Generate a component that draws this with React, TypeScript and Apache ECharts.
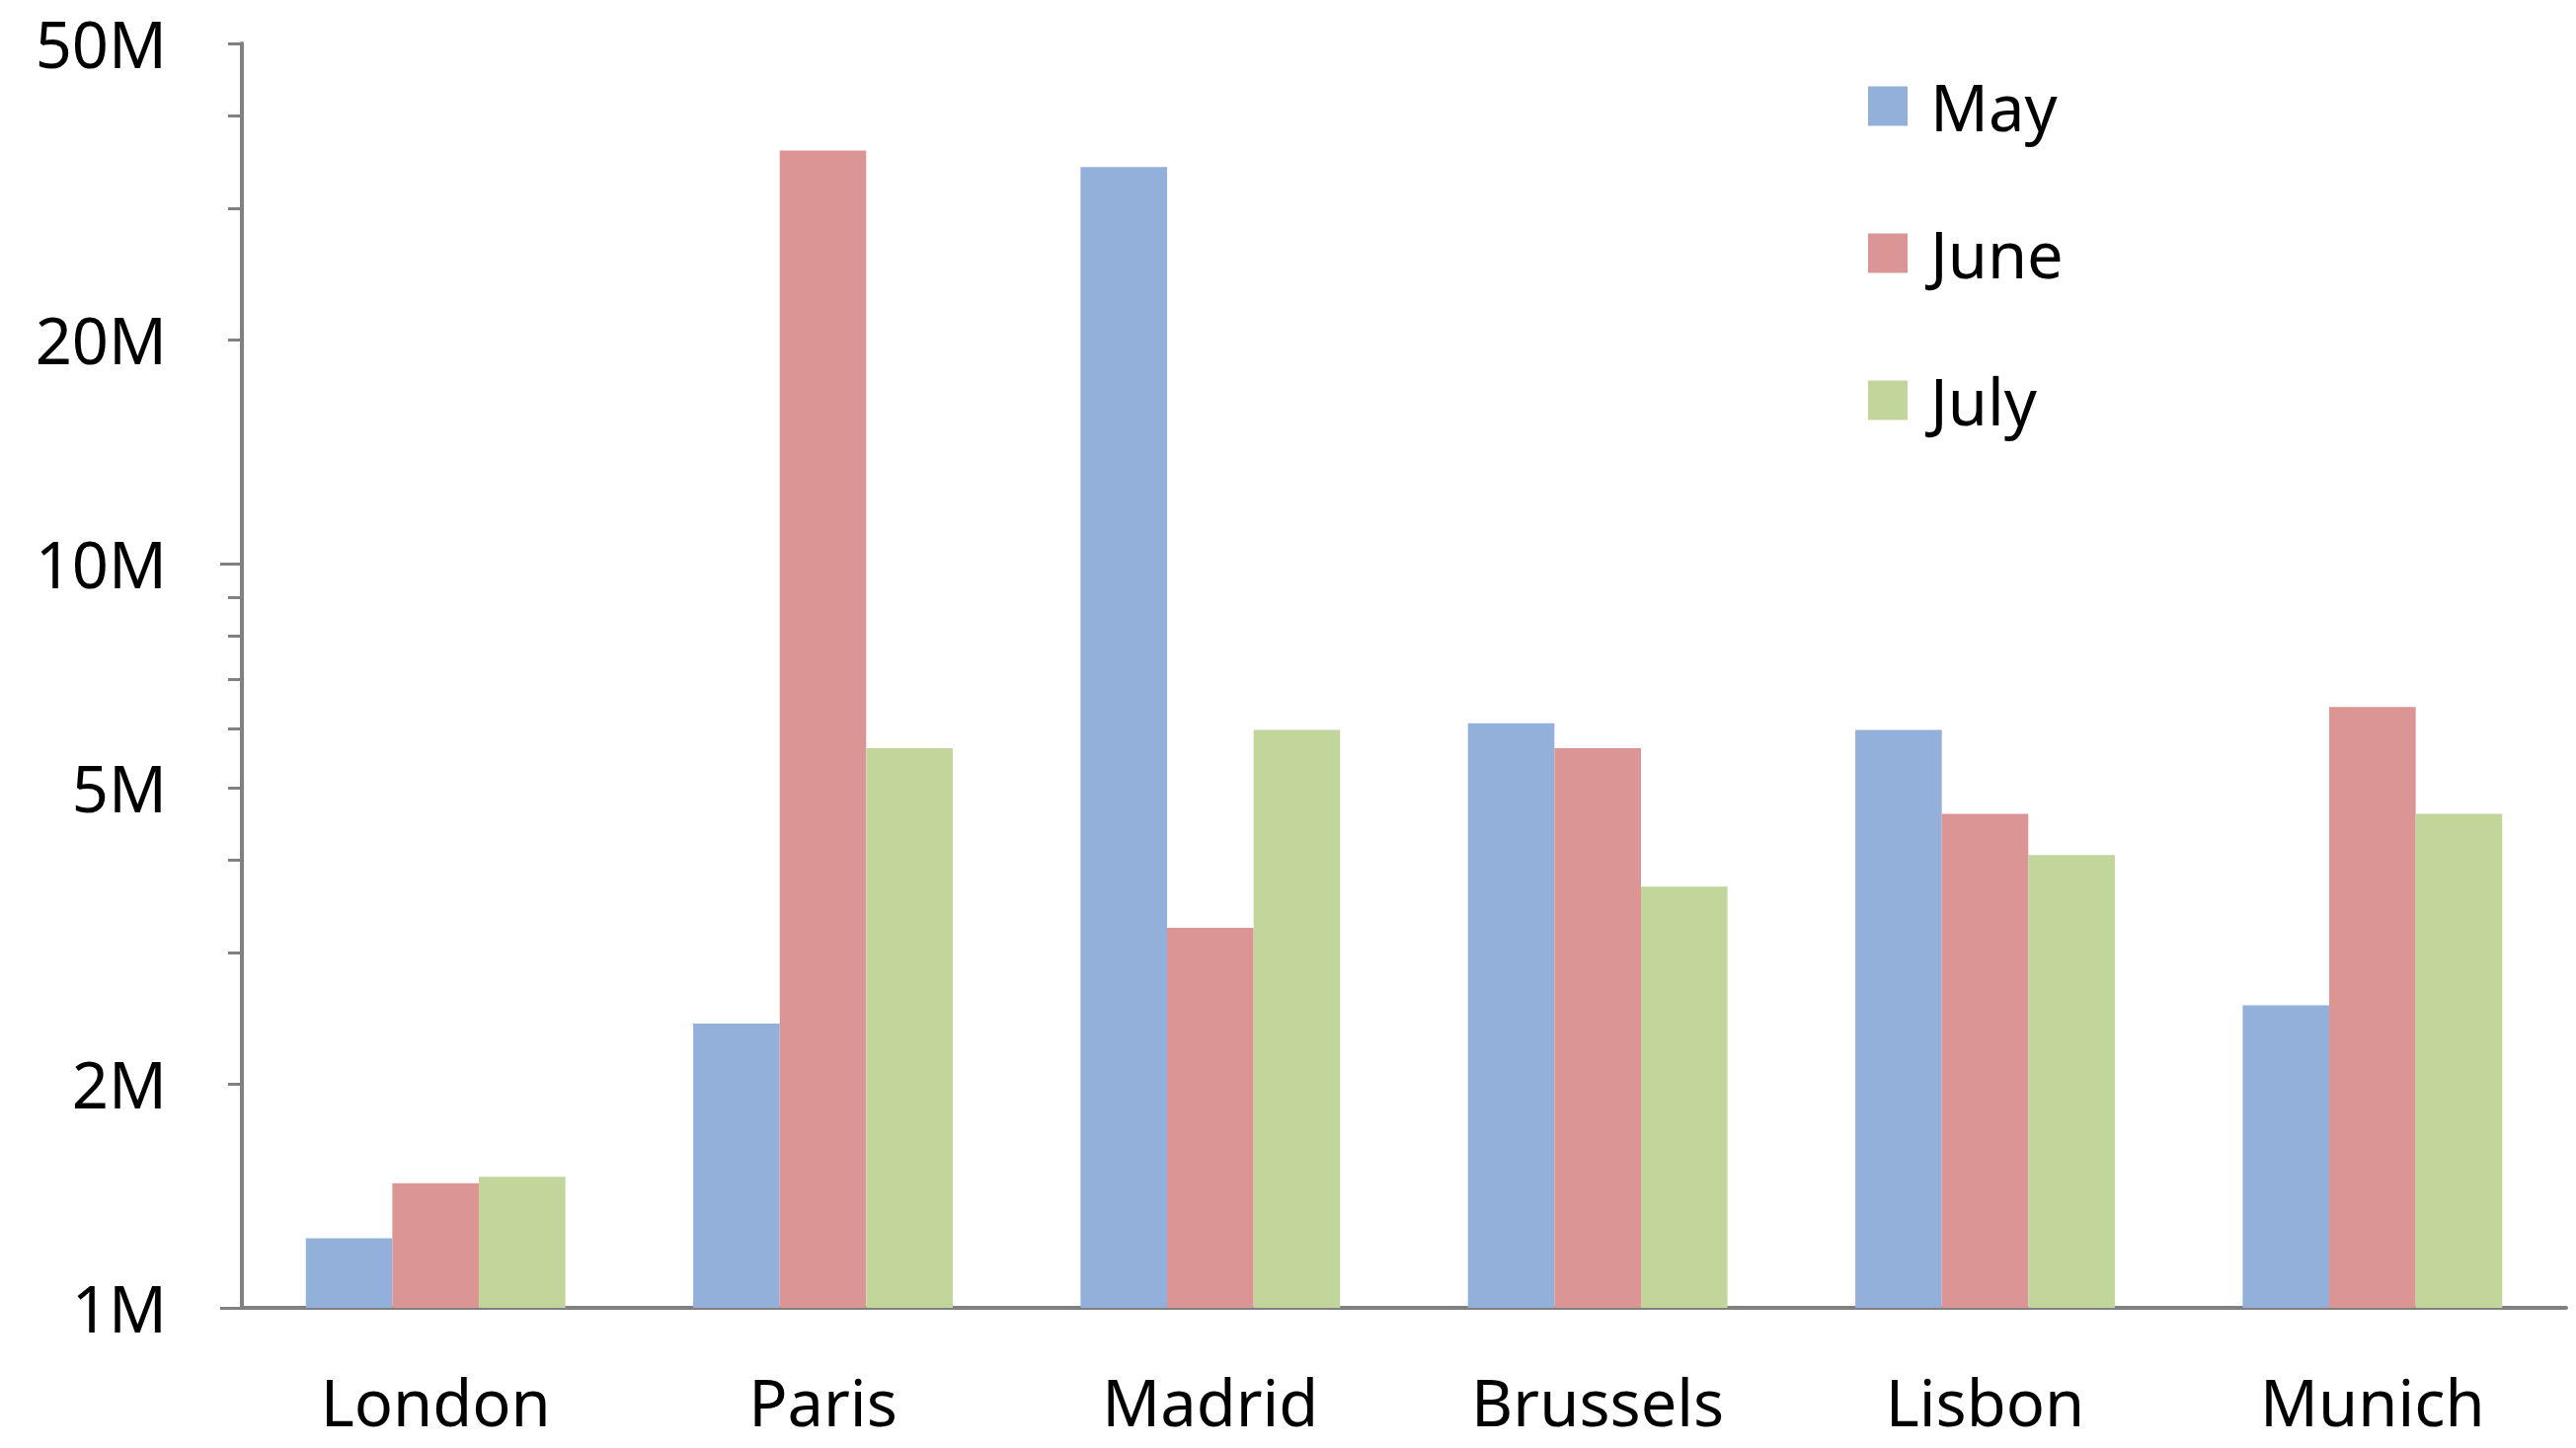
import React, { useEffect, useRef } from "react";
import * as echarts from "echarts";

const categories = ["London", "Paris", "Madrid", "Brussels", "Lisbon", "Munich"];
const seriesNames = ["May", "June", "July"];
const mayValues = [1240000, 2410000, 34100000, 6100000, 5980000, 2550000];
const juneValues = [1470000, 35900000, 3240000, 5650000, 4610000, 6420000];
const julyValues = [1500000, 5650000, 5980000, 3680000, 4060000, 4610000];
const yLabelValues = [1000000, 2000000, 5000000, 10000000, 20000000, 50000000];
const yTickValues = [
  1000000, 2000000, 3000000, 4000000, 5000000, 6000000, 7000000, 8000000, 9000000,
  10000000, 20000000, 30000000, 40000000, 50000000,
];
const yDecadeTicks = [1000000, 10000000];
const colors = ["#92B0DA", "#DA9594", "#C2D69B"];

const FONT = "Noto Sans";
const AXIS_COLOR = "#808080";

export default function App() {
  const ref = useRef<HTMLDivElement>(null);
  useEffect(() => {
    if (!ref.current) return;
    const chart = echarts.init(ref.current, undefined, { renderer: "svg" });
    const values = [mayValues, juneValues, julyValues];
    chart.setOption({
      animation: false,
      backgroundColor: "#ffffff",
      color: colors,
      grid: { left: 245, right: 10, top: 44, bottom: 142 },
      legend: {
        data: seriesNames,
        orient: "vertical",
        left: 1887,
        top: 70,
        itemWidth: 40,
        itemHeight: 40,
        itemGap: 84,
        icon: "rect",
        textStyle: { fontSize: 65, color: "#000", fontFamily: FONT, padding: [0, 0, 0, 18] },
      },
      xAxis: {
        type: "category",
        data: categories,
        axisLine: { show: true, lineStyle: { color: AXIS_COLOR, width: 4 } },
        axisTick: { show: false },
        axisLabel: { fontSize: 65, color: "#000", fontFamily: FONT, margin: 62 },
        splitLine: { show: false },
      },
      yAxis: [
        {
          type: "log",
          logBase: 10,
          min: 1000000,
          max: 50000000,
          axisLine: { show: true, lineStyle: { color: AXIS_COLOR, width: 4 } },
          axisTick: {
            show: true,
            inside: false,
            length: 14,
            customValues: yTickValues,
            lineStyle: { color: AXIS_COLOR, width: 3 },
          },
          axisLabel: {
            customValues: yLabelValues,
            formatter: (v: number) => Math.round(v / 1000000) + "M",
            margin: 76,
            fontSize: 65,
            color: "#000",
            fontFamily: FONT,
          },
          splitLine: { show: false },
          minorTick: { show: false },
        },
        {
          type: "log",
          logBase: 10,
          min: 1000000,
          max: 50000000,
          position: "left",
          axisLine: { show: false },
          axisTick: {
            show: true,
            inside: false,
            length: 22,
            customValues: yDecadeTicks,
            lineStyle: { color: AXIS_COLOR, width: 3 },
          },
          axisLabel: { show: false },
          splitLine: { show: false },
        },
      ],
      series: seriesNames.map((name, i) => ({
        name,
        type: "bar",
        data: values[i],
        yAxisIndex: 0,
        barGap: "0%",
        barCategoryGap: "33%",
        itemStyle: { color: colors[i] },
      })),
    });
    return () => chart.dispose();
  }, []);
  return (
    <div
      ref={ref}
      style={{ position: "fixed", left: 0, top: 0, width: 2609, height: 1467, background: "#fff" }}
    />
  );
}
